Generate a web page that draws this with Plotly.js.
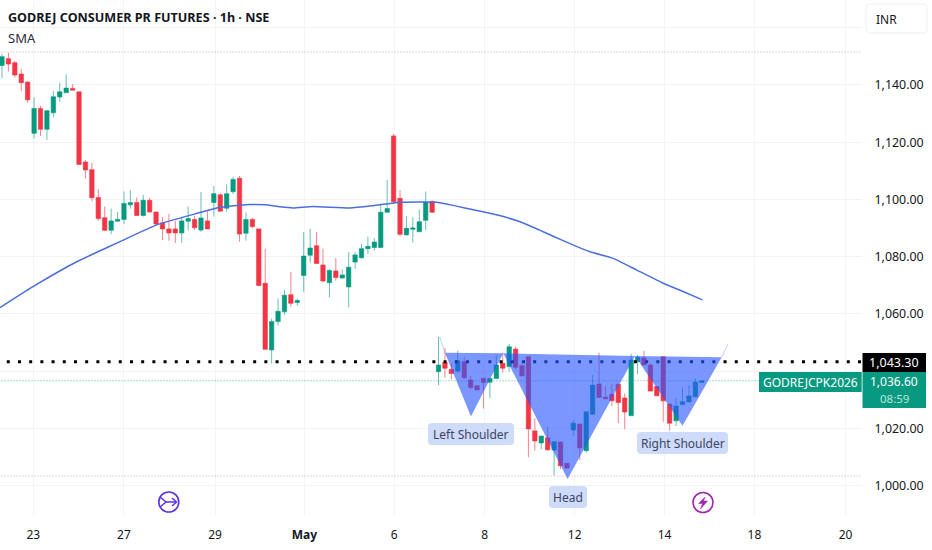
<!DOCTYPE html>
<html><head><meta charset="utf-8">
<script src="https://cdn.plot.ly/plotly-3.0.1.min.js"></script>
<style>html,body{margin:0;padding:0;background:#fff}#c{width:932px;height:550px}</style>
</head><body><div id="c"></div>
<script>
const open_=[1146.8,1149.2,1147.8,1143.8,1141.0,1123.1,1131.8,1124.5,1130.3,1135.8,1137.3,1138.8,1137.6,1113.1,1110.4,1100.7,1093.6,1089.2,1092.4,1093.0,1098.1,1098.9,1094.4,1099.7,1095.6,1091.8,1089.7,1089.7,1088.3,1092.4,1093.0,1089.3,1092.5,1098.9,1101.6,1096.9,1102.7,1107.4,1088.2,1093.0,1089.7,1070.7,1047.4,1057.3,1060.7,1066.7,1064.0,1073.4,1080.5,1083.8,1077.1,1070.9,1075.0,1072.5,1069.4,1078.1,1079.6,1082.8,1083.2,1083.2,1095.5,1122.2,1100.4,1087.6,1089.6,1088.7,1092.7,1099.3,1039.8,1043.1,1040.6,1040.0,1043.3,1036.9,1034.9,1037.5,1036.1,1037.4,1042.7,1041.6,1047.7,1041.9,1045.0,1019.1,1014.9,1016.7,1012.4,1015.2,1007.8,1019.4,1021.5,1012.2,1024.9,1035.5,1030.9,1031.9,1035.4,1030.6,1024.4,1043.3,1044.6,1042.1,1034.6,1045.0,1028.5,1022.6,1028.3,1029.2,1031.0,1036.0];
const high=[1150.8,1151.3,1148.4,1145.6,1141.3,1135.7,1132.7,1131.3,1137.9,1140.8,1143.7,1140.3,1137.6,1113.8,1112.8,1103.6,1097.5,1096.8,1095.6,1102.8,1103.2,1100.7,1101.6,1100.5,1095.6,1093.8,1094.9,1092.6,1094.0,1097.5,1094.2,1102.6,1095.8,1104.7,1102.1,1105.2,1108.0,1108.2,1095.5,1093.6,1089.7,1082.8,1058.4,1065.4,1068.4,1074.6,1065.4,1088.6,1089.7,1088.6,1082.8,1075.6,1079.5,1075.6,1081.6,1081.6,1084.4,1087.0,1086.5,1098.4,1106.8,1122.9,1103.3,1094.2,1093.7,1096.5,1102.8,1099.7,1052.0,1048.0,1042.7,1047.1,1045.0,1038.3,1035.1,1037.5,1037.4,1045.6,1046.4,1049.5,1048.5,1042.7,1045.0,1023.5,1017.3,1020.6,1015.3,1015.2,1007.8,1022.9,1021.5,1025.8,1038.6,1046.4,1034.8,1035.5,1035.4,1032.2,1046.0,1045.6,1047.1,1042.7,1034.6,1045.0,1028.5,1030.5,1034.3,1035.1,1037.5,1036.6];
const low=[1142.3,1144.7,1142.6,1137.9,1133.8,1121.2,1122.2,1120.8,1128.7,1134.1,1137.3,1138.2,1112.2,1107.3,1099.3,1092.5,1088.9,1087.9,1092.2,1091.4,1096.8,1094.2,1094.0,1095.4,1091.0,1085.8,1085.6,1084.8,1084.9,1089.1,1089.3,1088.7,1089.7,1094.0,1095.7,1095.7,1101.9,1085.2,1085.6,1090.0,1069.9,1047.6,1042.7,1055.9,1059.6,1062.5,1062.8,1067.7,1077.9,1077.6,1071.0,1065.8,1071.6,1072.3,1062.3,1075.7,1079.3,1080.9,1082.1,1083.2,1095.5,1098.4,1087.2,1087.6,1084.9,1088.7,1089.3,1095.5,1035.1,1037.7,1037.2,1039.2,1037.2,1033.6,1033.4,1026.9,1030.5,1037.4,1039.5,1039.8,1040.6,1038.3,1009.9,1012.2,1012.7,1012.2,1003.5,1005.7,1006.0,1017.3,1008.9,1011.5,1024.9,1030.5,1030.3,1027.8,1021.8,1019.7,1024.4,1038.9,1042.1,1033.0,1031.4,1022.3,1019.2,1020.8,1028.3,1029.2,1031.0,1036.0];
const close_=[1149.9,1147.3,1143.5,1140.8,1134.8,1131.8,1124.5,1131.0,1135.9,1137.6,1138.9,1138.2,1112.2,1110.3,1100.6,1093.3,1089.2,1092.5,1093.0,1098.6,1098.9,1094.4,1099.7,1095.6,1091.4,1089.7,1088.3,1088.3,1092.5,1093.3,1090.1,1093.5,1089.7,1102.0,1095.9,1102.0,1107.0,1087.9,1093.0,1090.5,1069.9,1047.6,1057.3,1060.9,1066.5,1063.7,1064.7,1080.2,1083.0,1077.6,1071.5,1075.2,1072.7,1073.6,1076.3,1080.6,1082.8,1083.6,1085.1,1095.5,1096.8,1099.2,1087.8,1089.9,1090.0,1092.2,1099.1,1095.5,1042.1,1041.0,1039.2,1043.6,1037.7,1034.3,1033.4,1036.0,1037.4,1042.1,1041.0,1048.5,1041.3,1038.3,1019.8,1015.6,1017.3,1012.5,1015.3,1006.9,1006.1,1021.8,1013.1,1025.8,1035.1,1030.8,1030.3,1029.6,1029.0,1025.7,1043.9,1044.8,1042.1,1033.0,1031.4,1029.6,1021.8,1027.8,1029.3,1031.3,1036.2,1036.6];
const barIndex=open_.map((_,i)=>i);

const smaX=[-0.3,4.83,11.64,17.87,24.1,30.84,33.44,35,38.63,41,43.3,45.33,48.4,54.2,57.8,62,67.7,72.5,78.1,80.7,84.3,87.4,91.6,95.2,98.9,103,106.1,109.1];
const smaY=[1062.2,1069.5,1078.2,1084.7,1091.1,1095.4,1097.0,1097.5,1098.2,1098.1,1097.4,1097.0,1097.5,1097.0,1097.8,1099.0,1099.0,1096.8,1094.0,1092.2,1088.7,1085.6,1081.7,1079.4,1075.3,1070.7,1067.8,1064.9];

const patternX=[69.0,73.05,78.08,null,78.08,88.1,98.6,null,98.6,106.0,112.1];
const patternY=[1046.4,1024.1,1046.2,null,1046.2,1002.3,1045.3,null,1045.3,1020.9,1044.8];
const legX=[68.2,69.0,null,112.1,113.1];
const legY=[1051.9,1046.4,null,1044.8,1049.5];

const gridPrices=[1000,1020,1040,1060,1080,1100,1120,1140,1160];
const priceLabels=['1,000.00','1,020.00','','1,060.00','1,080.00','1,100.00','1,120.00','1,140.00',''];
const dateTicks=[4.88,19.0,33.18,47.1,61.1,75.2,89.2,103.2,117.2,131.4];
const dateLabels=['23','27','29','<b>May</b>','6','8','12','14','18','20'];

const prevClose=1043.30, lastPrice=1036.60, rangeHigh=1151.5, rangeLow=1003.3;

const W=932,H=550,PW=862,PH=515;
const px=x=>x/PW, py=y=>1-y/PH;
function rr(x0,y0,x1,y1,r,fill,line){
  const X=px,Y=py;
  const p=`M ${X(x0+r)} ${Y(y0)} L ${X(x1-r)} ${Y(y0)} Q ${X(x1)} ${Y(y0)} ${X(x1)} ${Y(y0+r)} L ${X(x1)} ${Y(y1-r)} Q ${X(x1)} ${Y(y1)} ${X(x1-r)} ${Y(y1)} L ${X(x0+r)} ${Y(y1)} Q ${X(x0)} ${Y(y1)} ${X(x0)} ${Y(y1-r)} L ${X(x0)} ${Y(y0+r)} Q ${X(x0)} ${Y(y0)} ${X(x0+r)} ${Y(y0)} Z`;
  return {type:'path',xref:'paper',yref:'paper',path:p,fillcolor:fill,line:{color:line||fill,width:line?1:0},layer:'above'};
}
function poly(pts,fill,color,w){
  const p=pts.map((q,i)=>(i?'L ':'M ')+px(q[0])+' '+py(q[1])).join(' ')+(fill!=='none'?' Z':'');
  return {type:'path',xref:'paper',yref:'paper',path:p,fillcolor:fill==='none'?'rgba(0,0,0,0)':fill,line:{color:color,width:w},layer:'above'};
}
function circ(cx,cy,r,color){
  return {type:'circle',xref:'paper',yref:'paper',x0:px(cx-r),x1:px(cx+r),y0:py(cy+r),y1:py(cy-r),line:{color:color,width:1.6},fillcolor:'rgba(0,0,0,0)',layer:'above'};
}
function ann(x,y,text,color,size,anchor){
  return {xref:'paper',yref:'paper',x:px(x),y:py(y),text:text,showarrow:false,xanchor:anchor||'center',yanchor:'middle',
    font:{family:'"Noto Sans",sans-serif',size:size||12,color:color||'#131722'},borderpad:0,borderwidth:0};
}
const labelBg='#cfdbfb', labelInk='#3b4560', iris='#5a32e6', orchid='#9c27b0';

const shapes=[
  rr(428,423,514,445,4,labelBg),
  rr(549,486,587,508,4,labelBg),
  rr(637,432,728,454,4,labelBg),
  {type:'rect',xref:'paper',yref:'paper',x0:px(862.5),x1:px(926),y0:py(372),y1:py(353),fillcolor:'#000000',line:{width:0},layer:'above'},
  {type:'rect',xref:'paper',yref:'paper',x0:px(862.5),x1:px(926),y0:py(408),y1:py(372),fillcolor:'#089981',line:{width:0},layer:'above'},
  {type:'rect',xref:'paper',yref:'paper',x0:px(759),x1:px(861.7),y0:py(392),y1:py(372),fillcolor:'#089981',line:{width:0},layer:'above'},
  rr(866,4,927,33,4,'#ffffff','#f0f1f4'),
  circ(168.8,502,10,iris),
  poly([[160,497],[166,502],[160,507]],'none',iris,1.5),
  poly([[166,502],[176,502]],'none',iris,1.5),
  poly([[172,498],[176.5,502],[172,506]],'none',iris,1.5),
  circ(703,502.5,10,orchid),
  poly([[705,497],[698.5,503.5],[702.5,503.5],[700.5,509],[707.5,501],[703.5,501]],orchid,orchid,0.5)
];

const annotations=[
  ann(8,38,'SMA','#2a2e39',13,'left'),
  ann(471,434,'Left Shoulder',labelInk,12),
  ann(568,497,'Head',labelInk,12),
  ann(682.5,443,'Right Shoulder',labelInk,12),
  ann(894,362.5,'1,043.30','#ffffff',12.5),
  ann(894,381,'1,036.60','#ffffff',12),
  ann(894,398,'08:59','#b8e6dc',11.5),
  ann(810,382,'GODREJCPK2026','#ffffff',12),
  ann(876,19,'INR','#131722',12,'left')
];

const traces=[
 {type:'scatter',mode:'lines',x:[-1,140],y:[rangeHigh,rangeHigh],line:{color:'#b2b5be',width:1,dash:'1px,2px'},hoverinfo:'skip'},
 {type:'scatter',mode:'lines',x:[-1,140],y:[rangeLow,rangeLow],line:{color:'#b2b5be',width:1,dash:'1px,2px'},hoverinfo:'skip'},
 {type:'scatter',mode:'lines',x:[-1,140],y:[lastPrice,lastPrice],line:{color:'#089981',width:1,dash:'1px,2px'},opacity:0.7,hoverinfo:'skip'},
 {type:'candlestick',x:barIndex,open:open_,high:high,low:low,close:close_,whiskerwidth:0,
  increasing:{line:{color:'rgba(8,153,129,0.62)',width:1},fillcolor:'#089981'},
  decreasing:{line:{color:'rgba(242,54,69,0.62)',width:1},fillcolor:'#f23645'},hoverinfo:'skip'},
 {type:'scatter',mode:'lines',x:smaX,y:smaY,line:{color:'#4a6fdc',width:1.5,shape:'spline',smoothing:0.5},hoverinfo:'skip'},
 {type:'scatter',mode:'lines',x:[-1,140],y:[prevClose,prevClose],line:{color:'#000000',width:3,dash:'3px,8.2px'},hoverinfo:'skip'},
 {type:'scatter',mode:'lines',x:legX,y:legY,line:{color:'rgba(41,85,255,0.3)',width:1},connectgaps:false,hoverinfo:'skip'},
 {type:'scatter',mode:'lines',x:patternX,y:patternY,fill:'toself',fillcolor:'rgba(41,85,255,0.62)',line:{width:0,color:'rgba(41,85,255,0)'},connectgaps:false,hoverinfo:'skip'}
];

const layout={
  width:W,height:H,margin:{l:0,r:W-PW,t:0,b:H-PH,pad:0},
  paper_bgcolor:'#ffffff',plot_bgcolor:'#ffffff',showlegend:false,boxgap:0.32,boxgroupgap:0,
  title:{text:'<b>GODREJ CONSUMER PR FUTURES · 1h · NSE</b>',x:8/W,xref:'container',xanchor:'left',y:1-18/H,yref:'container',yanchor:'middle',
    font:{family:'"Noto Sans",sans-serif',size:12.6,color:'#131722'}},
  xaxis:{type:'linear',range:[-0.31,133.96],tickmode:'array',tickvals:dateTicks,ticktext:dateLabels,rangeslider:{visible:false},
    showgrid:true,gridcolor:'#f3f4f6',gridwidth:1,zeroline:false,showline:false,ticks:'outside',ticklen:9,tickcolor:'rgba(0,0,0,0)',
    tickfont:{family:'"Noto Sans",sans-serif',size:12,color:'#131722'},tickangle:0,fixedrange:true},
  yaxis:{type:'linear',side:'right',range:[989.7,1169.7],tickmode:'array',tickvals:gridPrices,ticktext:priceLabels,
    showgrid:true,gridcolor:'#f3f4f6',gridwidth:1,zeroline:false,showline:false,ticks:'outside',ticklen:9,tickcolor:'rgba(0,0,0,0)',
    tickfont:{family:'"Noto Sans",sans-serif',size:12.4,color:'#131722'},fixedrange:true},
  shapes:shapes,annotations:annotations
};
Plotly.newPlot('c',traces,layout,{displayModeBar:false,staticPlot:true});
</script></body></html>
